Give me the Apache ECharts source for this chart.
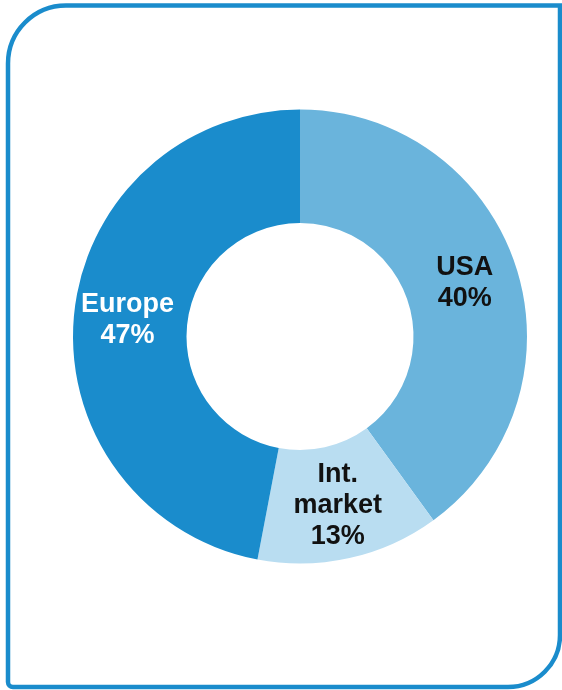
<!DOCTYPE html>
<html><head><meta charset="utf-8">
<script src="https://cdn.jsdelivr.net/npm/echarts@6/dist/echarts.min.js"></script>
<style>html,body{margin:0;padding:0;background:#fff}#c{width:562px;height:690px}</style>
</head><body><div id="c"></div>
<script>
const categories = ["USA", "Int.\nmarket", "Europe"];
const values = [40, 13, 47];
const colors = ["#6ab4dc", "#b9ddf1", "#1a8ccc"];
const labelColors = ["#111111", "#111111", "#ffffff"];

const chart = echarts.init(document.getElementById('c'), null, {renderer: 'canvas'});
chart.setOption({
  animation: false,
  graphic: [{
    type: 'rect',
    shape: {x: 8, y: 5.5, width: 552, height: 681.5, r: [58, 0, 52, 5]},
    style: {fill: 'none', stroke: '#1a8ccc', lineWidth: 4.5},
    z: 10
  }],
  series: [{
    type: 'pie',
    center: [300, 336.5],
    radius: [113.5, 227],
    startAngle: 90,
    clockwise: true,
    avoidLabelOverlap: false,
    label: {
      show: true,
      position: 'inside',
      fontFamily: '"Liberation Sans", Arial, sans-serif',
      fontWeight: 'bold',
      fontSize: 27,
      lineHeight: 31,
      formatter: p => p.name + '\n' + p.value + '%'
    },
    labelLine: {show: false},
    itemStyle: {borderWidth: 0},
    emphasis: {disabled: true},
    data: categories.map((c, i) => ({
      name: c, value: values[i],
      itemStyle: {color: colors[i]},
      label: {color: labelColors[i]}
    }))
  }]
});
</script></body></html>
